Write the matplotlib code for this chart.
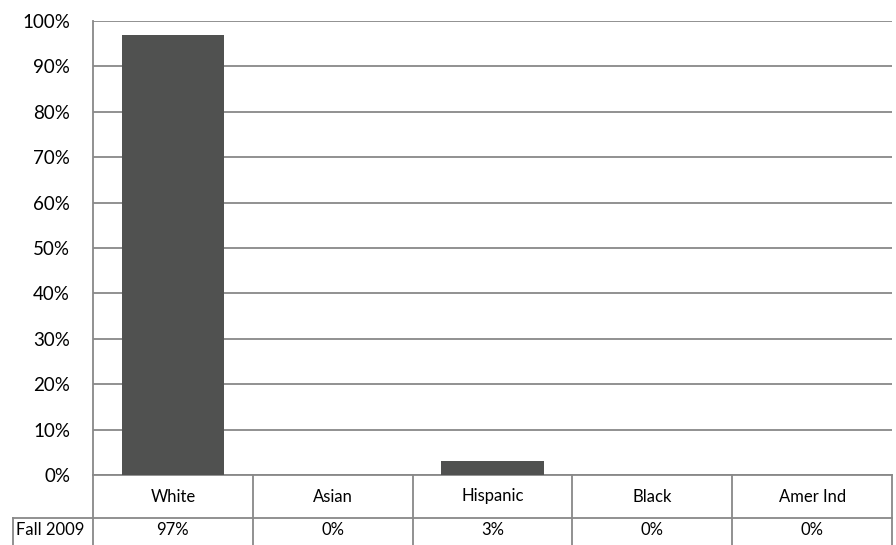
import numpy as np
import matplotlib.pyplot as plt
from matplotlib.ticker import PercentFormatter

# data
categories = ["White", "Asian", "Hispanic", "Black", "Amer Ind"]
fall_2009 = [97, 0, 3, 0, 0]
series_name = "Fall 2009"
y_ticks = list(range(0, 101, 10))

plt.rcParams['font.family'] = ['Lato', 'DejaVu Sans']

W, H = 896, 545
fig = plt.figure(figsize=(W / 100, H / 100), dpi=100)
left, right, top, bottom = 93, 892, 21, 475
ax = fig.add_axes([left / W, (H - bottom) / H, (right - left) / W, (bottom - top) / H])

grid_col = "#888888"
bar_col = "#505150"
x = np.arange(len(categories))

ax.bar(x, fall_2009, width=0.64, color=bar_col, zorder=3)
ax.set_xlim(-0.5, len(categories) - 0.5)
ax.set_ylim(0, 100)
ax.set_yticks(y_ticks)
ax.yaxis.set_major_formatter(PercentFormatter(decimals=0))
ax.grid(axis="y", color=grid_col, linewidth=1.3, zorder=0)
ax.tick_params(axis="y", length=0, labelsize=13.5, pad=16.5, colors="black")
ax.tick_params(axis="x", length=0, labelbottom=False)
for s in ["top", "right"]:
    ax.spines[s].set_visible(False)
ax.spines["left"].set_color(grid_col)
ax.spines["bottom"].set_color(grid_col)
ax.spines["left"].set_linewidth(1.3)
ax.spines["bottom"].set_linewidth(1.3)

# data table under the axis
ph = bottom - top
row1 = -(518 - bottom) / ph
row2 = -(H - bottom) / ph
lab_left = -(left - 13) / (right - left)
tf = ax.get_xaxis_transform()
lk = dict(color=grid_col, linewidth=1.3, clip_on=False)

for b in np.arange(len(categories) + 1) - 0.5:
    ax.plot([b, b], [0, row2], transform=tf, **lk)
ax.plot([lab_left, 1], [row1, row1], transform=ax.transAxes, **lk)
ax.plot([lab_left, lab_left], [row1, row2], transform=ax.transAxes, **lk)

for xi, cat, v in zip(x, categories, fall_2009):
    ax.text(xi, row1 / 2, cat, transform=tf, ha="center", va="center", fontsize=12)
    ax.text(xi, (row1 + row2) / 2 + 0.003, f"{v}%", transform=tf, ha="center", va="center", fontsize=12)
ax.text(lab_left + 0.004, (row1 + row2) / 2 + 0.003, series_name, transform=ax.transAxes,
        ha="left", va="center", fontsize=12)

fig.savefig("out.png", dpi=100)
